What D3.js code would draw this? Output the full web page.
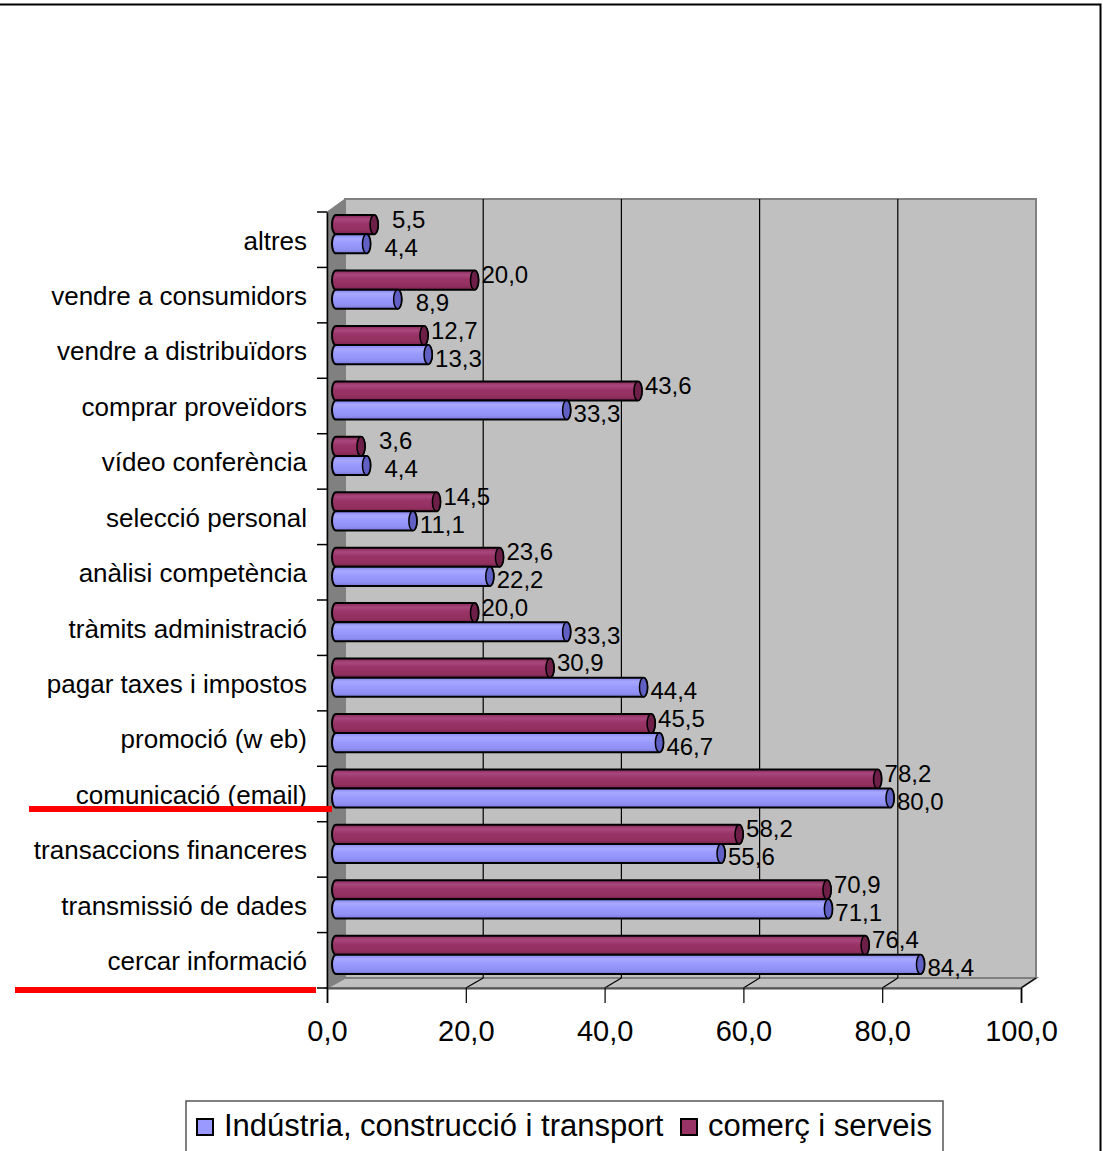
<!DOCTYPE html>
<html>
<head>
<meta charset="utf-8">
<script src="https://cdn.jsdelivr.net/npm/d3@7"></script>
<style>
  html, body { margin: 0; padding: 0; background: #fff; }
  svg { display: block; }
  text { font-family: "Liberation Sans", Arial, sans-serif; fill: #000; }
</style>
</head>
<body>
<svg id="chart" width="1103" height="1151"></svg>
<script>
// ---------- data ----------
const categories = [
  "altres",
  "vendre a consumidors",
  "vendre a distribuïdors",
  "comprar proveïdors",
  "vídeo conferència",
  "selecció personal",
  "anàlisi competència",
  "tràmits administració",
  "pagar taxes i impostos",
  "promoció (w eb)",
  "comunicació (email)",
  "transaccions financeres",
  "transmissió de dades",
  "cercar informació"
];
const industria = [4.4, 8.9, 13.3, 33.3, 4.4, 11.1, 22.2, 33.3, 44.4, 46.7, 80.0, 55.6, 71.1, 84.4];
const comerc    = [5.5, 20.0, 12.7, 43.6, 3.6, 14.5, 23.6, 20.0, 30.9, 45.5, 78.2, 58.2, 70.9, 76.4];
const seriesNames = ["Indústria, construcció i transport", "comerç i serveis"];
const xTicks = [0, 20, 40, 60, 80, 100];
const highlighted = ["comunicació (email)", "cercar informació"];

// ---------- layout ----------
const svg = d3.select("#chart");
const W = 1103, H = 1151;
svg.append("rect").attr("x", 0).attr("y", 0).attr("width", W).attr("height", H).attr("fill", "#fff");

const fmt = v => d3.format(".1f")(v).replace(".", ",");

const xFront = d3.scaleLinear().domain([0, 100]).range([327, 1021]);
const xBack  = d3.scaleLinear().domain([0, 100]).range([345, 1036]);
const xMid   = d3.scaleLinear().domain([0, 100]).range([336, 1028.5]);

const yFront = d3.scaleBand().domain(categories).range([212, 988]);
const yMid = d3.scaleBand().domain(categories).range([206.5, 982.5]).paddingInner(0.31).paddingOuter(0.155);
const ySub = d3.scaleBand().domain(["comerc", "industria"]).range([0, yMid.bandwidth()]);

const backTop = 199, backBottom = 978, frontBottom = 988, frontTop = 212;

// outer chart border
svg.append("rect").attr("x", -5).attr("y", 4.5).attr("width", 1105.5).attr("height", 1160)
  .attr("fill", "none").attr("stroke", "#000").attr("stroke-width", 2);

// ---------- walls ----------
svg.append("rect")
  .attr("x", xBack(0)).attr("y", backTop)
  .attr("width", xBack(100) - xBack(0)).attr("height", backBottom - backTop)
  .attr("fill", "#c0c0c0").attr("stroke", "#808080").attr("stroke-width", 2);
svg.append("path")
  .attr("d", `M${xFront(0)},${frontTop} L${xBack(0)},${backTop} L${xBack(0)},${backBottom} L${xFront(0)},${frontBottom} Z`)
  .attr("fill", "#808080").attr("stroke", "#808080").attr("stroke-width", 1);
svg.append("path")
  .attr("d", `M${xFront(0)},${frontBottom} L${xBack(0)},${backBottom} L${xBack(100)},${backBottom} L${xFront(100)},${frontBottom} Z`)
  .attr("fill", "#c0c0c0").attr("stroke", "#808080").attr("stroke-width", 2);

const inner = xTicks.filter(t => t > 0 && t < 100);
svg.append("g").selectAll("line").data(inner).join("line")
  .attr("x1", d => xBack(d)).attr("x2", d => xBack(d))
  .attr("y1", backTop).attr("y2", backBottom)
  .attr("stroke", "#000").attr("stroke-width", 1.2);
svg.append("g").selectAll("line").data(xTicks.filter(t => t > 0)).join("line")
  .attr("x1", d => xBack(d)).attr("x2", d => xFront(d))
  .attr("y1", backBottom).attr("y2", frontBottom)
  .attr("stroke", "#000").attr("stroke-width", 1.2);

// ---------- x axis ----------
const xAxis = d3.axisBottom(xFront).tickValues(xTicks).tickFormat(fmt).tickSize(15).tickPadding(17);
const gx = svg.append("g").attr("transform", `translate(0,${frontBottom})`).call(xAxis);
gx.select(".domain").attr("stroke", "#555").attr("stroke-width", 2);
gx.selectAll(".tick line").attr("stroke", "#000").attr("stroke-width", 1.2);
gx.selectAll(".tick text").attr("font-size", "29px").attr("font-family", '"Liberation Sans", Arial, sans-serif').attr("fill", "#000");

// ---------- y axis ----------
const yAxis = d3.axisLeft(yFront).tickSize(0).tickPadding(20);
const gy = svg.append("g").attr("transform", `translate(${xFront(0)},0)`).call(yAxis);
gy.select(".domain").attr("stroke", "#000").attr("stroke-width", 1.5);
gy.selectAll(".tick text").attr("font-size", "26px").attr("font-family", '"Liberation Sans", Arial, sans-serif')
  .attr("fill", "#000").attr("dy", "0.38em");
const bounds = categories.map(c => yFront(c)).concat([yFront(categories[categories.length - 1]) + yFront.bandwidth()]);
svg.append("g").selectAll("line").data(bounds).join("line")
  .attr("x1", xFront(0) - 10).attr("x2", xFront(0))
  .attr("y1", d => d).attr("y2", d => d)
  .attr("stroke", "#000").attr("stroke-width", 1.5);

// ---------- gradients ----------
const defs = svg.append("defs");
function grad(id, stops) {
  const g = defs.append("linearGradient").attr("id", id).attr("x1", 0).attr("x2", 0).attr("y1", 0).attr("y2", 1);
  stops.forEach(s => g.append("stop").attr("offset", s[0]).attr("stop-color", s[1]));
}
grad("gBlue", [["0%", "#8484ec"], ["22%", "#a8a8ff"], ["45%", "#9b9bff"], ["80%", "#9090f4"], ["100%", "#7878d8"]]);
grad("gMag",  [["0%", "#86295a"], ["22%", "#a8477c"], ["45%", "#9a3468"], ["80%", "#92305f"], ["100%", "#7a2350"]]);

const series = [
  { key: "comerc", values: comerc, fill: "url(#gMag)", cap: "#6e1f48", labelDy: 3 },
  { key: "industria", values: industria, fill: "url(#gBlue)", cap: "#5f5fc4", labelDy: 12 }
];

const bars = svg.append("g");
series.forEach(s => {
  const data = categories.map((c, i) => ({ c, v: s.values[i] }));
  const h = ySub.bandwidth();
  const rx = 4, ry = h / 2;
  const g = bars.append("g");
  g.selectAll("path.body").data(data).join("path")
    .attr("class", "body")
    .attr("d", d => {
      const x0 = xMid(0), xe = xMid(d.v), yt = yMid(d.c) + ySub(s.key), yb = yt + h;
      return `M${x0},${yt} L${xe},${yt} A${rx},${ry} 0 0 1 ${xe},${yb} L${x0},${yb} A${rx},${ry} 0 0 1 ${x0},${yt} Z`;
    })
    .attr("fill", s.fill).attr("stroke", "#000").attr("stroke-width", 2);
  g.selectAll("ellipse").data(data).join("ellipse")
    .attr("cx", d => xMid(d.v)).attr("cy", d => yMid(d.c) + ySub(s.key) + h / 2)
    .attr("rx", rx).attr("ry", ry)
    .attr("fill", s.cap).attr("stroke", "#000").attr("stroke-width", 1.5);
});
// value labels drawn on top of all bars
series.forEach(s => {
  const data = categories.map((c, i) => ({ c, v: s.values[i] }));
  const h = ySub.bandwidth();
  svg.append("g").selectAll("text").data(data).join("text")
    .attr("x", d => xMid(d.v) + (d.v < 10 ? 18 : 7))
    .attr("y", d => yMid(d.c) + ySub(s.key) + h / 2 + s.labelDy)
    .attr("font-size", "24px")
    .text(d => fmt(d.v));
});

// ---------- red annotation underlines ----------
const redLines = [
  { c: highlighted[0], x1: 29, x2: 332, y: 809 },
  { c: highlighted[1], x1: 15, x2: 316, y: 990 }
];
svg.append("g").selectAll("line").data(redLines).join("line")
  .attr("x1", d => d.x1).attr("x2", d => d.x2).attr("y1", d => d.y).attr("y2", d => d.y)
  .attr("stroke", "#ff0000").attr("stroke-width", 6);

// ---------- legend ----------
const lg = svg.append("g");
lg.append("rect").attr("x", 186).attr("y", 1101).attr("width", 757).attr("height", 70)
  .attr("fill", "#fff").attr("stroke", "#555").attr("stroke-width", 1.5);
const legendItems = [
  { name: seriesNames[0], color: "#9999ff", x: 197 },
  { name: seriesNames[1], color: "#993366", x: 681 }
];
const li = lg.selectAll("g.item").data(legendItems).join("g").attr("class", "item")
  .attr("transform", d => `translate(${d.x},1119)`);
li.append("rect").attr("x", 0).attr("y", 0).attr("width", 16).attr("height", 16)
  .attr("fill", d => d.color).attr("stroke", "#000").attr("stroke-width", 2);
li.append("text").attr("x", 27).attr("y", 17).attr("font-size", "31px").text(d => d.name);
</script>
</body>
</html>
